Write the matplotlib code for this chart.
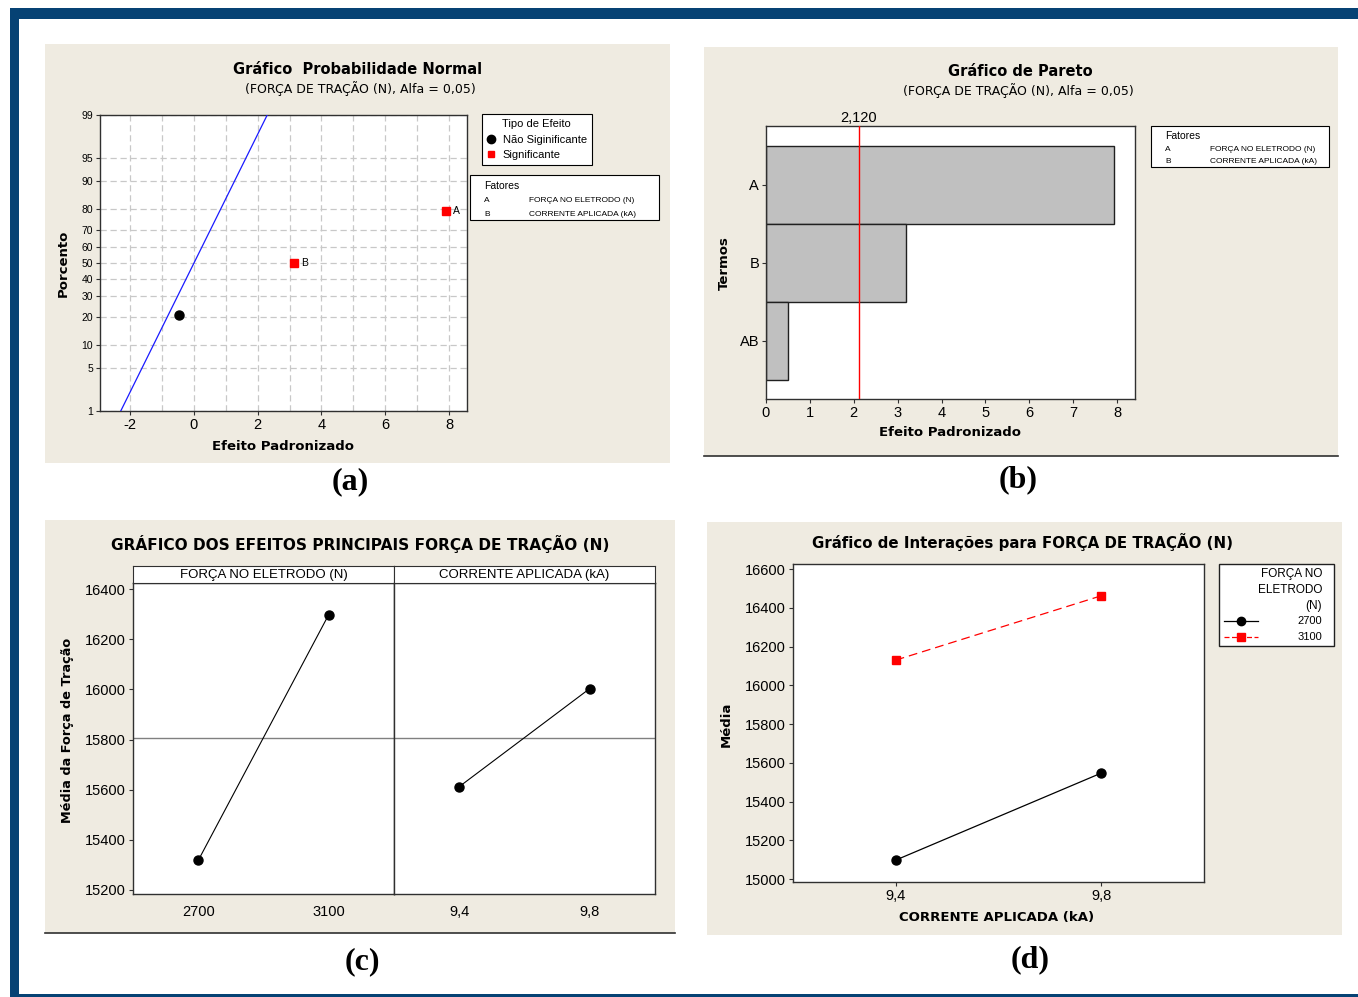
import matplotlib
matplotlib.use('Agg')
import matplotlib.pyplot as plt
from matplotlib.patches import Rectangle
from matplotlib.lines import Line2D
from statistics import NormalDist

plt.rcParams['axes.unicode_minus'] = False

W, H = 1358, 997

# (a) normal probability plot of effects
effect_terms = ['AB', 'B', 'A']
effect_values = [-0.48, 3.13, 7.90]
effect_percent = [20.6, 50.0, 79.4]
effect_significant = [False, True, True]
ref_line_x = [-2.29, 2.30]
ref_line_pct = [1, 99]
prob_ticks = [1, 5, 10, 20, 30, 40, 50, 60, 70, 80, 90, 95, 99]

# (b) pareto of standardized effects
pareto_terms = ['A', 'B', 'AB']
pareto_values = [7.93, 3.18, 0.51]
pareto_limit = 2.120

# (c) main effects
forca_levels = [2700, 3100]
corrente_levels = [9.4, 9.8]
forca_means = [15318, 16298]
corrente_means = [15612, 16003]
grand_mean = 15807

# (d) interaction (mean vs corrente, per forca level)
inter_2700 = [15098, 15547]
inter_3100 = [16130, 16462]

factor_names = ['FORÇA NO ELETRODO (N)', 'CORRENTE APLICADA (kA)']

BEIGE = '#efebe1'
BLUE = '#064274'
NARROW = ['Liberation Sans Narrow', 'Liberation Sans']
BOLD = 'DejaVu Sans'

fig = plt.figure(figsize=(W / 100, H / 100), dpi=100)
fig.patch.set_facecolor('white')


def fx(x):
    return x / W


def fy(y):
    return 1 - y / H


def px_axes(x0, y0, x1, y1):
    return fig.add_axes([fx(x0), fy(y1), (x1 - x0) / W, (y1 - y0) / H])


def ftext(x, y, s, **kw):
    kw.setdefault('ha', 'center')
    kw.setdefault('va', 'center')
    return fig.text(fx(x), fy(y), s, **kw)


def frect(x0, y0, x1, y1, **kw):
    r = Rectangle((fx(x0), fy(y1)), (x1 - x0) / W, (y1 - y0) / H,
                  transform=fig.transFigure, **kw)
    fig.add_artist(r)
    return r


def fline(x0, y0, x1, y1, **kw):
    ln = Line2D([fx(x0), fx(x1)], [fy(y0), fy(y1)], transform=fig.transFigure, **kw)
    fig.add_artist(ln)
    return ln


def style_axes(ax, size=9.5):
    for s in ax.spines.values():
        s.set_color('#303030')
        s.set_linewidth(1)
    ax.tick_params(direction='out', length=3, width=0.8, color='#303030',
                   labelsize=size, pad=2)
    for lab in ax.get_xticklabels() + ax.get_yticklabels():
        lab.set_family(NARROW)


# frame and panel backgrounds
frect(10, 8, W, 19, color=BLUE, lw=0, zorder=-5)
frect(10, 8, 19, 996, color=BLUE, lw=0, zorder=-5)
frect(10, 994, W, 997, color=BLUE, lw=0, zorder=-5)
frect(45, 44, 670, 463, color=BEIGE, lw=0, zorder=-5)
frect(704, 47, 1338, 456, color=BEIGE, lw=0, zorder=-5)
frect(45, 520, 675, 933, color=BEIGE, lw=0, zorder=-5)
frect(707, 522, 1342, 935, color=BEIGE, lw=0, zorder=-5)
fline(704, 456, 1338, 456, color='#303030', lw=1.2)
fline(45, 933, 675, 933, color='#303030', lw=1.2)

lab_kw = dict(family='Liberation Serif', weight='bold', fontsize=23)
ftext(350, 482, '(a)', **lab_kw)
ftext(1018, 480, '(b)', **lab_kw)
ftext(362, 962, '(c)', **lab_kw)
ftext(1030, 960, '(d)', **lab_kw)

# ---------------- (a) normal probability plot ----------------
nd = NormalDist()


def z(p):
    return nd.inv_cdf(p / 100)


ax = px_axes(100, 115, 467, 411)
ax.set_xlim(-2.94, 8.56)
ax.set_ylim(z(1), z(99))
ax.set_xticks(range(-2, 9, 2))
ax.set_xticks(range(-1, 8, 2), minor=True)
ax.set_yticks([z(p) for p in prob_ticks])
ax.set_yticklabels([str(p) for p in prob_ticks])
ax.grid(True, which='both', color='#c8c8c8', linestyle=(0, (5, 3)), lw=0.9)
ax.tick_params(which='minor', length=0)
ax.plot(ref_line_x, [z(p) for p in ref_line_pct], color='#1a1aff', lw=0.9, zorder=3)
for term, val, pct, sig in zip(effect_terms, effect_values, effect_percent, effect_significant):
    if sig:
        ax.plot(val, z(pct), 's', color='#ff0000', ms=6, zorder=4)
        ax.annotate(term, (val, z(pct)), xytext=(5, 0), textcoords='offset points',
                    va='center', fontsize=7.5, family=NARROW)
    else:
        ax.plot(val, z(pct), 'o', color='black', ms=6.5, zorder=4)
style_axes(ax, 10.5)
ax.tick_params(axis='y', labelsize=7.5)

ftext(358, 70, 'Gráfico  Probabilidade Normal', family=BOLD, weight='bold', fontsize=10.5)
ftext(360, 89, '(FORÇA DE TRAÇÃO (N), Alfa = 0,05)', family=BOLD, fontsize=9)
ftext(283, 446, 'Efeito Padronizado', family=BOLD, weight='bold', fontsize=9.5)
ftext(63, 263, 'Porcento', family=BOLD, weight='bold', fontsize=9.5, rotation=90)

# legend for effect type
handles = [Line2D([], [], marker='o', color='black', ls='none', ms=6),
           Line2D([], [], marker='s', color='#ff0000', ls='none', ms=5)]
leg = ax.legend(handles, ['Não Siginificante', 'Significante'], title='Tipo de Efeito',
                loc='upper left', bbox_to_anchor=(fx(482), fy(114)),
                bbox_transform=fig.transFigure, fancybox=False, edgecolor='black',
                framealpha=1, borderaxespad=0, handlelength=0.8, handletextpad=0.6,
                labelspacing=0.5, borderpad=0.45, prop={'family': NARROW, 'size': 8},
                title_fontproperties={'family': NARROW, 'size': 8})
leg.get_frame().set_linewidth(0.8)


def fatores_box(x0, y0, x1, y1, size):
    frect(x0, y0, x1, y1, facecolor='white', edgecolor='black', lw=0.8, zorder=5)
    step = (y1 - y0) / 3.4
    ftext(x0 + 14, y0 + step * 0.85, 'Fatores', ha='left', family=NARROW, fontsize=size + 1.5, zorder=6)
    for i, (code, name) in enumerate(zip(['A', 'B'], factor_names)):
        yy = y0 + step * (1.95 + i * 1.0)
        ftext(x0 + 14, yy, code, ha='left', family=NARROW, fontsize=size, zorder=6)
        ftext(x0 + 59, yy, name, ha='left', family=NARROW, fontsize=size, zorder=6)


fatores_box(470, 175, 659, 220, 6)

# ---------------- (b) pareto ----------------
ax = px_axes(766, 126, 1135, 399)
ypos = list(range(len(pareto_terms)))[::-1]
ax.barh(ypos, pareto_values, height=1.0, color='#c0c0c0', edgecolor='#202020', lw=1, zorder=2)
ax.axvline(pareto_limit, color='#ff0000', lw=1, zorder=3)
ax.set_xlim(0, 8.41)
ax.set_ylim(-0.744, 2.756)
ax.set_xticks(range(0, 9))
ax.set_yticks(ypos)
ax.set_yticklabels(pareto_terms)
style_axes(ax, 10.5)
ax.text(pareto_limit, 1.005, f'{pareto_limit:.3f}'.replace('.', ','),
        transform=ax.get_xaxis_transform(), ha='center', va='bottom',
        family=NARROW, fontsize=10.5)
ftext(1020, 72, 'Gráfico de Pareto', family=BOLD, weight='bold', fontsize=10.5)
ftext(1018, 91, '(FORÇA DE TRAÇÃO (N), Alfa = 0,05)', family=BOLD, fontsize=9)
ftext(950, 433, 'Efeito Padronizado', family=BOLD, weight='bold', fontsize=9.5)
ftext(724, 263, 'Termos', family=BOLD, weight='bold', fontsize=9.5, rotation=90)
fatores_box(1151, 126, 1329, 167, 6)

# ---------------- (c) main effects ----------------
ylim_c = (15184, 16424)
panels = [(133, 394, forca_levels, forca_means, (2500, 3300), factor_names[0]),
          (394, 655, corrente_levels, corrente_means, (9.2, 10.0), factor_names[1])]
for i, (x0, x1, lv, means, xl, name) in enumerate(panels):
    ax = px_axes(x0, 583, x1, 894)
    ax.plot(lv, means, color='black', lw=0.8, marker='o', ms=6.5, zorder=3)
    ax.axhline(grand_mean, color='#808080', lw=1, zorder=2)
    ax.set_xlim(*xl)
    ax.set_ylim(*ylim_c)
    ax.set_xticks(lv)
    ax.set_xticklabels([f'{v:g}'.replace('.', ',') for v in lv])
    ax.set_yticks(range(15200, 16401, 200))
    style_axes(ax, 10.5)
    ax.tick_params(axis='x', length=0, pad=8)
    if i > 0:
        ax.tick_params(axis='y', left=False, labelleft=False)
    hx = px_axes(x0, 566, x1, 583)
    hx.set_xticks([])
    hx.set_yticks([])
    for s in hx.spines.values():
        s.set_color('#303030')
    hx.text(0.5, 0.45, name, ha='center', va='center', family=NARROW, fontsize=9.5)

ftext(360, 544, 'GRÁFICO DOS EFEITOS PRINCIPAIS FORÇA DE TRAÇÃO (N)',
      family=BOLD, weight='bold', fontsize=11.1)
ftext(67, 730, 'Média da Força de Tração', family=BOLD, weight='bold', fontsize=9.3, rotation=90)

# ---------------- (d) interaction ----------------
ax = px_axes(793, 564, 1204, 882)
ax.plot(corrente_levels, inter_2700, color='black', lw=0.9, marker='o', ms=6.5, zorder=3)
ax.plot(corrente_levels, inter_3100, color='#ff0000', lw=0.9, ls=(0, (7, 4)),
        marker='s', ms=6, zorder=3)
ax.set_xlim(9.2, 10.0)
ax.set_ylim(14985, 16626)
ax.set_xticks(corrente_levels)
ax.set_xticklabels([f'{v:g}'.replace('.', ',') for v in corrente_levels])
ax.set_yticks(range(15000, 16601, 200))
style_axes(ax, 10.5)
ftext(1022, 542, 'Gráfico de Interações para FORÇA DE TRAÇÃO (N)',
      family=BOLD, weight='bold', fontsize=10.8)
ftext(726, 724, 'Média', family=BOLD, weight='bold', fontsize=9.5, rotation=90)
ftext(997, 918, 'CORRENTE APLICADA (kA)', family=BOLD, weight='bold', fontsize=9.5)

frect(1219, 564, 1334, 646, facecolor='white', edgecolor='#202020', lw=1, zorder=5)
for yy, s in zip([574, 590, 606], ['FORÇA NO', 'ELETRODO', '(N)']):
    ftext(1322, yy, s, ha='right', family=NARROW, fontsize=8.5, zorder=6)
for yy, s, col, mk, ls in [(621, '2700', 'black', 'o', '-'), (637, '3100', '#ff0000', 's', (0, (4, 2)))]:
    fline(1224, yy, 1258, yy, color=col, lw=0.9, ls=ls, zorder=6)
    fig.add_artist(Line2D([fx(1241)], [fy(yy)], marker=mk, color=col, ms=6,
                          transform=fig.transFigure, zorder=7))
    ftext(1322, yy, s, ha='right', family=NARROW, fontsize=8, zorder=6)

fig.savefig('out.png', dpi=100, facecolor='white')
